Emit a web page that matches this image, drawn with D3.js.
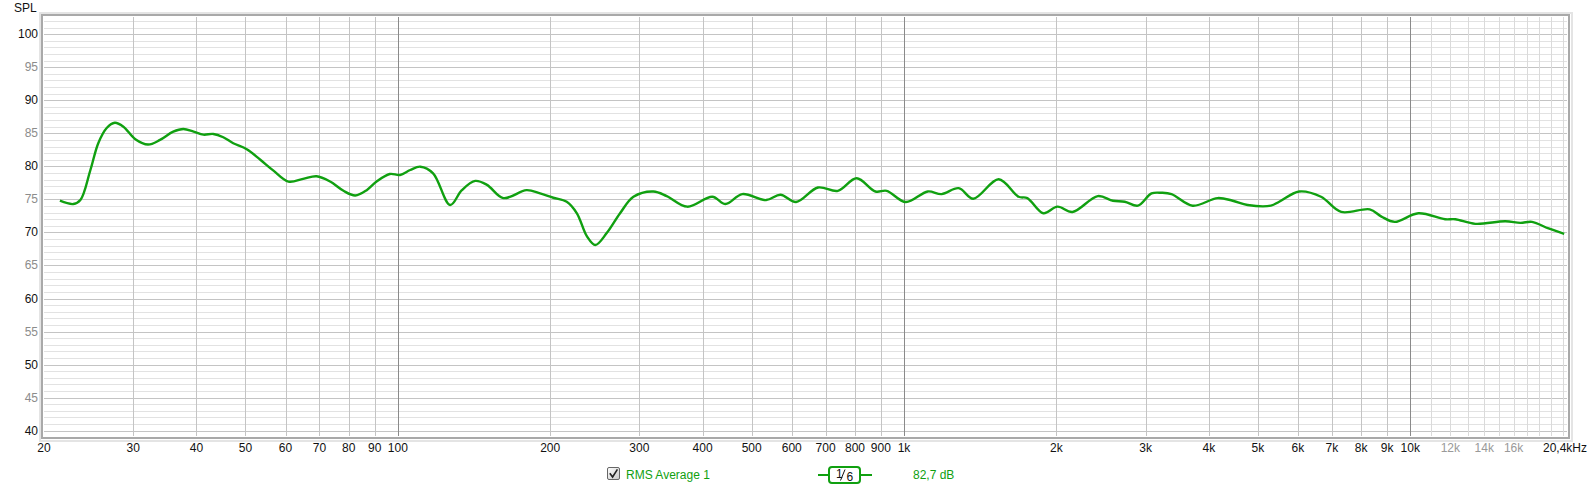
<!DOCTYPE html>
<html>
<head>
<meta charset="utf-8">
<script src="https://cdn.jsdelivr.net/npm/d3@7"></script>
<style>
  body { margin: 0; background: #fff; }
  svg text { font-family: "Liberation Sans", Arial, sans-serif; font-size: 12px; }
</style>
</head>
<body>
<div id="chart"></div>
<script>
// measured response (Hz, dB SPL)
var freqHz = [21.5, 22.85, 23.6, 24.7, 25.6, 26.6, 27.6, 28.7, 30.3, 32.1, 33.9, 36.0, 37.7, 39.5,
  41.3, 43.2, 45.2, 47.3, 50.3, 53.5, 56.8, 60.8, 65, 69.1, 73.5, 78.1, 82.4, 86.8, 90.8, 96.4,
  101, 105.8, 110.8, 117.4, 126.9, 133.8, 142.2, 150, 161.6, 179.6, 191, 202.8, 215.6, 225.8,
  236.4, 245.6, 258.6, 274.8, 292, 319.8, 339.8, 373, 418, 444, 479, 534, 570, 612, 676, 740,
  806, 878, 924, 1008, 1114, 1186, 1282, 1370, 1538, 1684, 1752, 1884, 2010, 2152, 2414, 2586,
  2728, 2898, 3082, 3226, 3376, 3716, 4164, 4458, 4772, 5306, 5510, 6034, 6664, 7304, 8316,
  8772, 9322, 10374, 11716, 12268, 13446, 15408, 16500, 17396, 18760, 20140];
var splDb = [74.8, 74.3, 74.9, 79.45, 83.5, 85.8, 86.6, 86.0, 84.1, 83.3, 84.0, 85.25, 85.65, 85.25,
  84.8, 84.9, 84.4, 83.5, 82.6, 81.0, 79.35, 77.7, 78.1, 78.5, 77.7, 76.3, 75.6, 76.4, 77.7, 78.85,
  78.7, 79.45, 79.95, 78.95, 74.15, 76.4, 77.8, 77.2, 75.2, 76.4, 75.9, 75.25, 74.65, 72.9,
  69.4, 68.1, 69.9, 72.9, 75.4, 76.2, 75.5, 73.9, 75.4, 74.3, 75.8, 74.9, 75.7, 74.6, 76.8, 76.3,
  78.2, 76.2, 76.3, 74.6, 76.2, 75.8, 76.7, 75.1, 78.05, 75.4, 75.2, 72.9, 73.9, 73.1, 75.5, 74.8,
  74.65, 74.05, 75.9, 76.0, 75.8, 74.05, 75.2, 74.8, 74.15, 74.05, 74.65, 76.2, 75.4, 73.1, 73.5,
  72.4, 71.6, 72.9, 72.0, 72.0, 71.3, 71.7, 71.45, 71.6, 70.6, 69.8];

var yTicks = [40, 45, 50, 55, 60, 65, 70, 75, 80, 85, 90, 95, 100];
var xTicks = [20, 30, 40, 50, 60, 70, 80, 90, 100, 200, 300, 400, 500, 600, 700, 800, 900,
  1000, 2000, 3000, 4000, 5000, 6000, 7000, 8000, 9000, 10000, 12000, 14000, 16000];
var xTickText = ["20", "30", "40", "50", "60", "70", "80", "90", "100", "200", "300", "400", "500",
  "600", "700", "800", "900", "1k", "2k", "3k", "4k", "5k", "6k", "7k", "8k", "9k", "10k",
  "12k", "14k", "16k"];
var fadedTicks = [12000, 14000, 16000];
var gridFreqs = [30, 40, 50, 60, 70, 80, 90, 100, 200, 300, 400, 500, 600, 700, 800, 900,
  1000, 2000, 3000, 4000, 5000, 6000, 7000, 8000, 9000, 10000,
  11000, 12000, 13000, 14000, 15000, 16000, 17000, 18000, 19000, 20000];
var decadeFreqs = [100, 1000, 10000];
var endLabel = "20,4kHz";
var legendName = "RMS Average 1";
var legendLevel = "82,7 dB";

(function() {
  var W = 1590, H = 489;
  var pL = 44, pR = 1567, pT = 17, pB = 436;
  var green = "#10a010";

  var svg = d3.select("#chart").append("svg")
    .attr("width", W).attr("height", H);

  var x = d3.scaleLog().domain([20, 20400]).range([pL, pR]);
  var y = d3.scaleLinear().domain([39.2, 102.6]).range([pB, pT]);

  // frame with a soft shadow look
  svg.append("rect").attr("x", pL - 4).attr("y", pT - 4)
    .attr("width", pR - pL + 9).attr("height", pB - pT + 9)
    .attr("fill", "none").attr("stroke", "#e4e4e4").attr("stroke-width", 2);
  svg.append("rect").attr("x", pL - 2).attr("y", pT - 2)
    .attr("width", pR - pL + 4).attr("height", pB - pT + 4)
    .attr("fill", "#fff").attr("stroke", "#a9a9a9").attr("stroke-width", 2);

  var grid = svg.append("g");

  // horizontal 1 dB lines
  var dbLines = d3.range(40, 103, 1);
  grid.selectAll("line.h").data(dbLines).enter().append("line")
    .attr("x1", pL).attr("x2", pR)
    .attr("y1", function(d) { return Math.round(y(d)) + 0.5; })
    .attr("y2", function(d) { return Math.round(y(d)) + 0.5; })
    .attr("stroke", function(d) { return d % 5 === 0 ? "#c4c4c4" : "#e2e2e2"; })
    .attr("stroke-width", 1);

  // vertical lines
  grid.selectAll("line.v").data(gridFreqs).enter().append("line")
    .attr("y1", pT).attr("y2", pB)
    .attr("x1", function(d) { return Math.round(x(d)) + 0.5; })
    .attr("x2", function(d) { return Math.round(x(d)) + 0.5; })
    .attr("stroke", function(d) {
      if (decadeFreqs.indexOf(d) >= 0) return "#8a8a8a";
      if (d > 10000) return "#dadada";
      return "#c4c4c4";
    })
    .attr("stroke-width", 1);

  // y labels
  svg.selectAll("text.y").data(yTicks).enter().append("text")
    .attr("x", 38).attr("y", function(d) { return y(d) + 4; })
    .attr("text-anchor", "end")
    .attr("fill", function(d) { return d % 10 === 0 ? "#111" : "#8c8c8c"; })
    .text(function(d) { return d; });

  svg.append("text").attr("x", 14).attr("y", 12).attr("fill", "#111").text("SPL");

  // x labels
  svg.selectAll("text.x").data(xTicks).enter().append("text")
    .attr("x", function(d) { return x(d); }).attr("y", 452)
    .attr("text-anchor", "middle")
    .attr("fill", function(d) { return fadedTicks.indexOf(d) >= 0 ? "#999" : "#111"; })
    .text(function(d, i) { return xTickText[i]; });

  svg.append("text").attr("x", x(20400) - 24).attr("y", 452)
    .attr("fill", "#111").text(endLabel);

  // response curve
  var pts = freqHz.map(function(f, i) { return { f: f, v: splDb[i] }; });
  var line = d3.line()
    .x(function(d) { return x(d.f); })
    .y(function(d) { return y(d.v); })
    .curve(d3.curveCatmullRom.alpha(0.5));

  svg.append("path").datum(pts)
    .attr("d", line)
    .attr("fill", "none")
    .attr("stroke", green)
    .attr("stroke-width", 2.4)
    .attr("stroke-linejoin", "round");

  // legend
  var defs = svg.append("defs");
  var grad = defs.append("linearGradient").attr("id", "cb")
    .attr("x1", 0).attr("y1", 0).attr("x2", 1).attr("y2", 1);
  grad.append("stop").attr("offset", "0%").attr("stop-color", "#ffffff");
  grad.append("stop").attr("offset", "100%").attr("stop-color", "#c8c8c8");

  svg.append("rect").attr("x", 607.5).attr("y", 467.5).attr("width", 12).attr("height", 12)
    .attr("rx", 1.5).attr("fill", "url(#cb)").attr("stroke", "#666");
  svg.append("path").attr("d", "M609.8,473.2 L612.6,477 L617.4,469.4")
    .attr("fill", "none").attr("stroke", "#222").attr("stroke-width", 1.6);

  svg.append("text").attr("x", 626).attr("y", 479).attr("fill", green).text(legendName);

  svg.append("line").attr("x1", 818).attr("x2", 872).attr("y1", 475).attr("y2", 475)
    .attr("stroke", green).attr("stroke-width", 2);
  svg.append("rect").attr("x", 829).attr("y", 467).attr("width", 31).attr("height", 16)
    .attr("rx", 3).attr("fill", "#fff").attr("stroke", green).attr("stroke-width", 2);
  svg.append("text").attr("x", 836).attr("y", 478).attr("font-size", "11px").attr("fill", "#111").text("1");
  svg.append("line").attr("x1", 840.5).attr("y1", 480.5).attr("x2", 845).attr("y2", 469.5)
    .attr("stroke", "#111").attr("stroke-width", 1);
  svg.append("text").attr("x", 846.5).attr("y", 480.5).attr("font-size", "10px").attr("fill", "#111").text("6");

  svg.append("text").attr("x", 913).attr("y", 479).attr("fill", green).text(legendLevel);
})();
</script>
</body>
</html>
